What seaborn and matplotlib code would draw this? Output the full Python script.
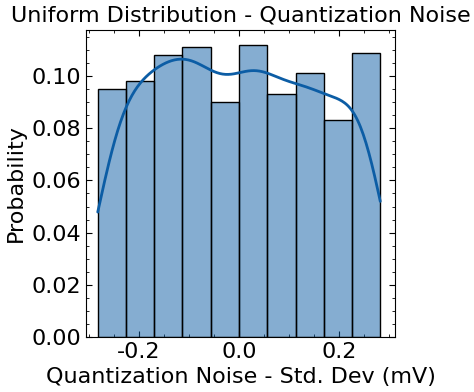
import numpy as np
import pandas as pd
import matplotlib
matplotlib.use("Agg")
import matplotlib.pyplot as plt
import seaborn as sns

# bin edges of the histogram (mV) and the probability read for each bin
bin_lo = -0.2825
bin_hi = 0.2825
n_bins = 10
probabilities = [0.095, 0.098, 0.108, 0.111, 0.090, 0.112, 0.093, 0.101, 0.083, 0.109]

width = (bin_hi - bin_lo) / n_bins
centers = [bin_lo + width * (i + 0.5) for i in range(n_bins)]
df = pd.DataFrame({"noise": centers, "prob": probabilities})

sns.set_style("ticks")
plt.rcParams.update({
    "font.family": ["DejaVu Sans"],
    "font.size": 14,
    "axes.unicode_minus": False,
    "text.color": "black",
    "axes.labelcolor": "black",
    "xtick.labelcolor": "black",
    "ytick.labelcolor": "black",
    "xtick.direction": "in",
    "ytick.direction": "in",
    "xtick.top": True,
    "ytick.right": True,
    "xtick.minor.visible": True,
    "ytick.minor.visible": True,
    "xtick.major.size": 4,
    "ytick.major.size": 4,
    "xtick.minor.size": 2,
    "ytick.minor.size": 2,
    "xtick.major.width": 0.8,
    "ytick.major.width": 0.8,
    "xtick.minor.width": 0.6,
    "ytick.minor.width": 0.6,
    "axes.linewidth": 0.8,
    "axes.edgecolor": "black",
    "xtick.color": "black",
    "ytick.color": "black",
})

fig = plt.figure(figsize=(4.74, 3.92), dpi=100)
ax = fig.add_axes([0.1814, 0.1403, 0.652, 0.783])

sns.histplot(data=df, x="noise", weights="prob", bins=n_bins, binrange=(bin_lo, bin_hi),
             stat="probability", kde=True, color="#0C5DA5",
             kde_kws={"bw_adjust": 0.44, "cut": 1, "clip": (bin_lo, bin_hi)},
             line_kws={"linewidth": 2},
             edgecolor="black", linewidth=1, alpha=0.5, ax=ax)
for p in ax.patches:
    p.set_edgecolor("black")

ax.set_xlim(-0.306, 0.312)
ax.set_title("Uniform Distribution - Quantization Noise", fontsize=16, color="black")
ax.set_xlabel("Quantization Noise - Std. Dev (mV)", fontsize=16)
ax.set_ylabel("Probability", fontsize=16)
ax.tick_params(labelsize=16)

fig.savefig("out.png", dpi=100)
